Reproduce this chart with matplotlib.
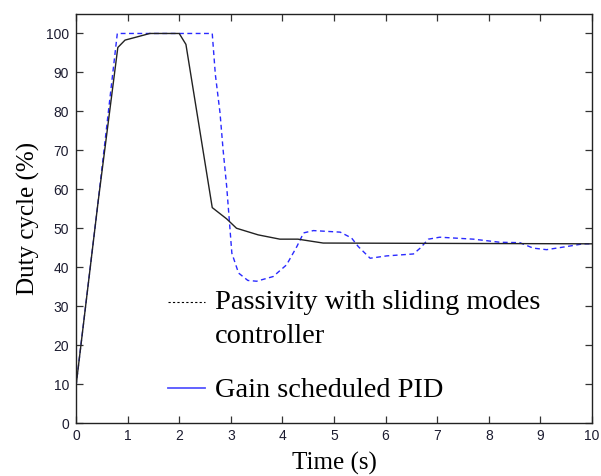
import matplotlib
matplotlib.use("Agg")
import matplotlib.pyplot as plt

# passivity / sliding modes response (solid black in the plot)
t_black = [0, 0.43, 0.81, 0.95, 1.15, 1.43, 2.0, 2.13, 2.64, 2.92, 3.11, 3.53, 3.95, 4.30, 4.79, 10]
d_black = [9.5, 57, 96.4, 98.3, 99.0, 100, 100, 97.2, 55.3, 52.4, 50.0, 48.3, 47.2, 47.2, 46.2, 46]

# gain scheduled PID response (dashed blue)
t_blue = [0, 0.43, 0.80, 2.64, 2.70, 2.79, 2.85, 2.92, 2.97, 3.02, 3.15, 3.33, 3.50, 3.82,
          4.08, 4.28, 4.41, 4.60, 5.12, 5.34, 5.47, 5.70, 6.02, 6.54, 6.67, 6.83, 7.05,
          7.70, 8.22, 8.60, 8.86, 9.12, 9.51, 9.83, 10]
d_blue = [9.5, 57, 100, 100, 89.5, 79.7, 70.2, 60.7, 52.2, 43.6, 38.5, 36.6, 36.4, 37.6,
          40.6, 45.3, 48.8, 49.4, 49.0, 47.5, 45.3, 42.3, 42.9, 43.4, 44.9, 47.2, 47.7,
          47.2, 46.4, 46.3, 44.9, 44.5, 45.3, 46.0, 46]

x_ticks = list(range(0, 11))
y_ticks = list(range(0, 101, 10))
labels = ["Passivity with sliding modes", "controller", "Gain scheduled PID"]

SERIF = "Liberation Serif"
SANS = "Liberation Sans"
TICKC = "#1c1c30"

fig = plt.figure(figsize=(6.01, 4.76), dpi=100)
ax = fig.add_axes([0.1265, 0.1113, 0.8585, 0.8593])

ax.plot(t_blue, d_blue, color="#2a2aff", lw=1.0, ls=(0, (3.5, 2.5)))
ax.plot(t_black, d_black, color="#222222", lw=1.0)

ax.set_xlim(0, 10); ax.set_ylim(0, 105)
ax.set_xticks(x_ticks); ax.set_yticks(y_ticks)
ax.tick_params(direction="in", length=5, width=0.9, top=True, right=True,
               labelsize=10, labelcolor=TICKC, colors="#333333")
ax.tick_params(axis="x", pad=4)
ax.tick_params(axis="y", pad=5)
for lab in ax.get_xticklabels() + ax.get_yticklabels():
    lab.set_fontfamily(SANS)
    lab.set_color(TICKC)
for s in ax.spines.values():
    s.set_color("#222222"); s.set_linewidth(1.0)

ax.set_xlabel("Time (s)", fontfamily=SERIF, fontsize=18, labelpad=7)
ax.set_ylabel("Duty cycle (%)", fontfamily=SERIF, fontsize=18, labelpad=4)

# hand-placed legend (handles are not matched to the series, as in the original)
ax.plot([0.178, 0.250], [0.296, 0.296], transform=ax.transAxes, color="black", lw=0.8, ls=(0, (2, 2)))
ax.plot([0.178, 0.250], [0.086, 0.086], transform=ax.transAxes, color="#5555ff", lw=1.3)
ax.text(0.269, 0.279, labels[0], transform=ax.transAxes, va="baseline", ha="left", fontfamily=SERIF, fontsize=20.4)
ax.text(0.269, 0.196, labels[1], transform=ax.transAxes, va="baseline", ha="left", fontfamily=SERIF, fontsize=20.4)
ax.text(0.269, 0.064, labels[2], transform=ax.transAxes, va="baseline", ha="left", fontfamily=SERIF, fontsize=20.4)

fig.savefig("out.png", dpi=100)
